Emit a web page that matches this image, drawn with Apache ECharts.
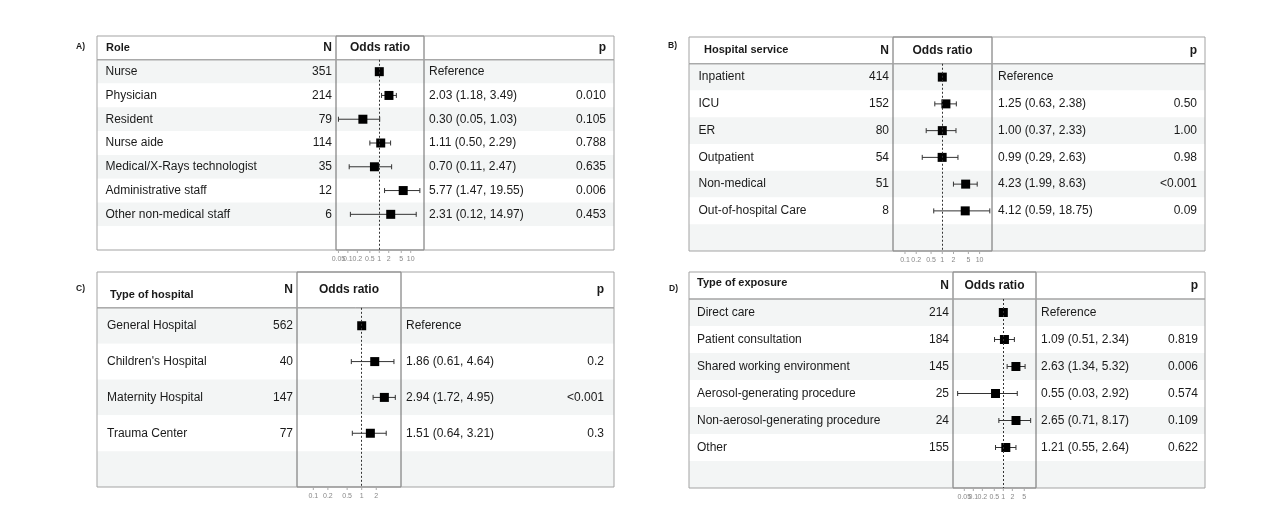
<!DOCTYPE html>
<html><head><meta charset="utf-8">
<script src="https://cdn.jsdelivr.net/npm/echarts@6/dist/echarts.min.js"></script>
<style>html,body{margin:0;padding:0;background:#fff}#c{width:1272px;height:525px}</style>
</head><body><div id="c"></div>
<script>
// ---------- DATA ----------
// A) Role
const roleLabels = ['Nurse','Physician','Resident','Nurse aide','Medical/X-Rays technologist','Administrative staff','Other non-medical staff'];
const roleN = [351,214,79,114,35,12,6];
const roleOR = [1,2.03,0.30,1.11,0.70,5.77,2.31];
const roleLow = [null,1.18,0.05,0.50,0.11,1.47,0.12];
const roleHigh = [null,3.49,1.03,2.29,2.47,19.55,14.97];
const roleP = ['','0.010','0.105','0.788','0.635','0.006','0.453'];
const roleTicks = [0.05,0.1,0.2,0.5,1,2,5,10];
// B) Hospital service
const servLabels = ['Inpatient','ICU','ER','Outpatient','Non-medical','Out-of-hospital Care'];
const servN = [414,152,80,54,51,8];
const servOR = [1,1.25,1.00,0.99,4.23,4.12];
const servLow = [null,0.63,0.37,0.29,1.99,0.59];
const servHigh = [null,2.38,2.33,2.63,8.63,18.75];
const servP = ['','0.50','1.00','0.98','<0.001','0.09'];
const servTicks = [0.1,0.2,0.5,1,2,5,10];
// C) Type of hospital
const hospLabels = ['General Hospital',"Children's Hospital",'Maternity Hospital','Trauma Center'];
const hospN = [562,40,147,77];
const hospOR = [1,1.86,2.94,1.51];
const hospLow = [null,0.61,1.72,0.64];
const hospHigh = [null,4.64,4.95,3.21];
const hospP = ['','0.2','<0.001','0.3'];
const hospTicks = [0.1,0.2,0.5,1,2];
// D) Type of exposure
const expLabels = ['Direct care','Patient consultation','Shared working environment','Aerosol-generating procedure','Non-aerosol-generating procedure','Other'];
const expN = [214,184,145,25,24,155];
const expOR = [1,1.09,2.63,0.55,2.65,1.21];
const expLow = [null,0.51,1.34,0.03,0.71,0.55];
const expHigh = [null,2.34,5.32,2.92,8.17,2.64];
const expP = ['','0.819','0.006','0.574','0.109','0.622'];
const expTicks = [0.05,0.1,0.2,0.5,1,2,5];

const panels = [
  {letter:'A)', head:'Role', labels:roleLabels, n:roleN, or:roleOR, lo:roleLow, hi:roleHigh, p:roleP, ticks:roleTicks},
  {letter:'B)', head:'Hospital service', labels:servLabels, n:servN, or:servOR, lo:servLow, hi:servHigh, p:servP, ticks:servTicks},
  {letter:'C)', head:'Type of hospital', labels:hospLabels, n:hospN, or:hospOR, lo:hospLow, hi:hospHigh, p:hospP, ticks:hospTicks},
  {letter:'D)', head:'Type of exposure', labels:expLabels, n:expN, or:expOR, lo:expLow, hi:expHigh, p:expP, ticks:expTicks}
];

// ---------- LAYOUT ----------
const layouts = [
  {box:[97,36,614,250], div:[336,424], letter:[76,47], labelX:8.5, hdrX:9, hdrDy:0, nX:235, orX:332, pX:509, xMin:0.0418, xMax:26.5},
  {box:[689,37,1205,251], div:[893,992], letter:[668,46], labelX:9.5, hdrX:15, hdrDy:0, nX:200, orX:309, pX:508, xMin:0.0477, xMax:21.5},
  {box:[97,272,614,487], div:[297,401], letter:[76,289], labelX:10, hdrX:13, hdrDy:5, nX:196, orX:309, pX:507, xMin:0.046, xMax:6.49},
  {box:[689,272,1205,488], div:[953,1036], letter:[669,289], labelX:8, hdrX:8, hdrDy:-3, nX:260, orX:352, pX:509, xMin:0.021, xMax:12.3}
];

const FONT = '"Liberation Sans", Arial, sans-serif';
const TXT = '#1a1a1a';

function fmt(v){ return v.toFixed(2); }

const grids=[], xAxes=[], yAxes=[], series=[], titles=[];

panels.forEach((P, k) => {
  const L = layouts[k];
  const [bl, bt, br, bb] = L.box;
  const nRows = P.labels.length + 1;
  const rowH = (bb - bt) / (nRows + 1);
  const hdrB = bt + rowH;
  const cats = P.labels.concat(['']);
  const W = br - bl;
  const gi = grids.length;
  const orTexts = P.or.map((v,i) => P.lo[i] == null ? 'Reference' : fmt(v) + ' (' + fmt(P.lo[i]) + ', ' + fmt(P.hi[i]) + ')');

  titles.push({text:P.letter, left:L.letter[0], top:L.letter[1]-5, padding:0,
    textStyle:{fontSize:8.5, fontWeight:'bold', color:TXT, fontFamily:FONT}});

  // header grid
  grids.push({left:bl, top:bt, width:W, height:rowH, show:true, borderColor:'#a3a3a3', borderWidth:1, backgroundColor:'transparent', z:4});
  xAxes.push({gridIndex:gi, type:'value', min:0, max:W, show:false});
  yAxes.push({gridIndex:gi, type:'category', data:['hdr'], show:false});
  // body grid
  grids.push({left:bl, top:hdrB, width:W, height:bb-hdrB, show:true, borderColor:'#a3a3a3', borderWidth:1, backgroundColor:'transparent', z:4});
  xAxes.push({gridIndex:gi+1, type:'value', min:0, max:W, show:false});
  yAxes.push({gridIndex:gi+1, type:'category', data:cats, inverse:true,
    axisLine:{show:false}, axisTick:{show:false}, axisLabel:{show:false}, splitLine:{show:false},
    splitArea:{show:true, interval:0, areaStyle:{color:['#f3f5f5','#ffffff']}}});
  // column dividers grid
  grids.push({left:L.div[0], top:bt, width:L.div[1]-L.div[0], height:bb-bt, show:true, borderColor:'#666', borderWidth:1, backgroundColor:'transparent', z:3});
  xAxes.push({gridIndex:gi+2, type:'value', min:0, max:1, show:false});
  yAxes.push({gridIndex:gi+2, type:'value', min:0, max:1, show:false});
  // forest grid
  grids.push({left:L.div[0], top:hdrB, width:L.div[1]-L.div[0], height:bb-hdrB, show:false});
  xAxes.push({gridIndex:gi+3, type:'log', min:L.xMin, max:L.xMax, show:false});
  yAxes.push({gridIndex:gi+3, type:'category', data:cats, inverse:true, show:false});

  const baseLabel = {show:true, position:[0,0], verticalAlign:'middle', color:TXT, fontFamily:FONT, fontSize:12, formatter:'{b}'};

  // header texts
  series.push({type:'scatter', xAxisIndex:gi, yAxisIndex:gi, symbolSize:0, silent:true, z:6,
    itemStyle:{opacity:1},
    label:baseLabel,
    data:[
      {name:P.head, value:[L.hdrX,0], label:{align:'left', fontWeight:'bold', fontSize:11, offset:[0,L.hdrDy]}},
      {name:'N', value:[L.nX,0], label:{align:'right', fontWeight:'bold'}},
      {name:'Odds ratio', value:[(L.div[0]+L.div[1])/2-bl,0], label:{align:'center', fontWeight:'bold'}},
      {name:'p', value:[L.pX,0], label:{align:'right', fontWeight:'bold'}}
    ]});
  // body text columns
  const cols = [
    {texts:P.labels, x:L.labelX, align:'left'},
    {texts:P.n.map(String), x:L.nX, align:'right'},
    {texts:orTexts, x:L.orX, align:'left'},
    {texts:P.p, x:L.pX, align:'right'}
  ];
  cols.forEach(c => {
    series.push({type:'scatter', xAxisIndex:gi+1, yAxisIndex:gi+1, symbolSize:0, silent:true, z:6,
      itemStyle:{opacity:1},
      label:Object.assign({}, baseLabel, {align:c.align}),
      data:c.texts.map((t,i) => ({name:t, value:[c.x,i]}))});
  });

  // confidence intervals
  series.push({type:'custom', xAxisIndex:gi+3, yAxisIndex:gi+3, silent:true, z:3,
    encode:{x:[0,1], y:2},
    data:P.lo.map((lo,i) => [lo, P.hi[i], i]).filter(d => d[0] != null),
    renderItem:function(params, api){
      const a = api.coord([api.value(0), api.value(2)]);
      const b = api.coord([api.value(1), api.value(2)]);
      const st = {stroke:'#333', lineWidth:1};
      const c = 2.5;
      return {type:'group', children:[
        {type:'line', shape:{x1:a[0], y1:a[1], x2:b[0], y2:b[1]}, style:st},
        {type:'line', shape:{x1:a[0], y1:a[1]-c, x2:a[0], y2:a[1]+c}, style:st},
        {type:'line', shape:{x1:b[0], y1:b[1]-c, x2:b[0], y2:b[1]+c}, style:st}
      ]};
    }});
  // point estimates + reference line
  series.push({type:'scatter', xAxisIndex:gi+3, yAxisIndex:gi+3, symbol:'rect', symbolSize:9, silent:true, z:4,
    itemStyle:{color:'#000', opacity:1},
    data:P.or.map((v,i) => [v,i]),
    markLine:{silent:true, symbol:['none','none'], label:{show:false}, animation:false,
      lineStyle:{color:'#333', type:[2,2], width:1},
      data:[{xAxis:1}]}});
  // axis ticks & labels
  series.push({type:'custom', xAxisIndex:gi+3, yAxisIndex:gi+3, silent:true, z:6, clip:false,
    encode:{x:0, y:1},
    data:P.ticks.map(t => [t, 0]),
    renderItem:function(params, api){
      const x = api.coord([api.value(0), 0])[0];
      const cs = params.coordSys;
      const yb = cs.y + cs.height;
      return {type:'group', children:[
        {type:'line', shape:{x1:x, y1:yb, x2:x, y2:yb+3}, style:{stroke:'#aaa', lineWidth:1}},
        {type:'text', x:x, y:yb+6, style:{text:String(api.value(0)), textAlign:'center', textVerticalAlign:'top',
          fontSize:7, fill:'#888', fontFamily:FONT}}
      ]};
    }});
});

const chart = echarts.init(document.getElementById('c'));
chart.setOption({
  animation:false,
  backgroundColor:'#fff',
  title:titles,
  grid:grids,
  xAxis:xAxes,
  yAxis:yAxes,
  series:series
});
</script>
</body></html>
